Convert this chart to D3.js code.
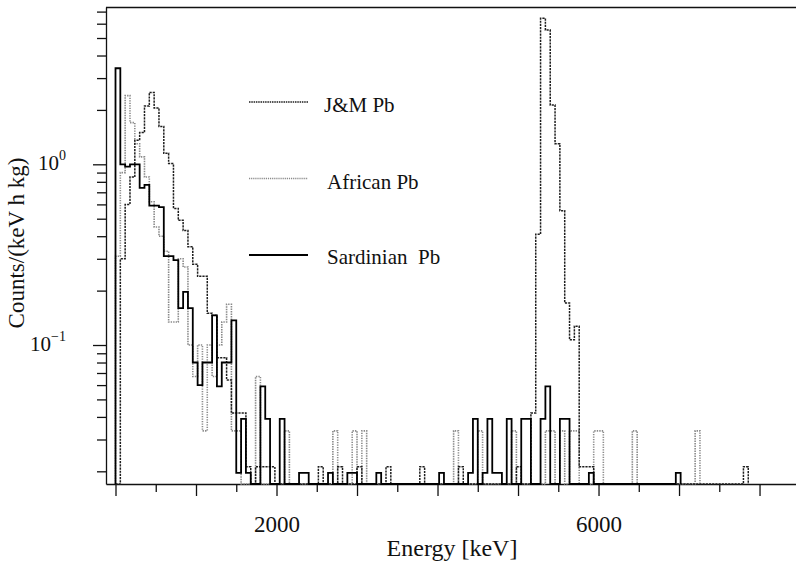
<!DOCTYPE html>
<html><head><meta charset="utf-8">
<script src="https://cdn.jsdelivr.net/npm/d3@7"></script>
<style>
body{margin:0;background:#fff;}
svg{display:block;}
text{font-family:"Liberation Serif","Times New Roman",serif;fill:#111;}
</style>
</head><body>
<svg id="c" width="796" height="562"></svg>
<script>
// ---- data: [bin start (keV), counts/(keV h kg)], 60 keV bins, empty bins omitted ----
const binWidth = 60;
const sardinian = [[0,3.4],[60,1.0],[120,0.97],[180,1.0],[240,1.0],[300,0.74],[360,0.77],[420,0.59],[480,0.59],[540,0.58],
  [600,0.31],[660,0.31],[720,0.295],[780,0.16],[840,0.197],[900,0.16],[960,0.08],[1020,0.06],[1080,0.08],[1140,0.08],
  [1200,0.146],[1260,0.059],[1320,0.08],[1380,0.08],[1440,0.137],[1500,0.0196],[1560,0.039],[1620,0.0196],[1800,0.059],[1860,0.039],
  [2040,0.039],[2280,0.0196],[2340,0.0196],[2640,0.0196],[2880,0.0196],[2940,0.0196],[3240,0.0196],[4020,0.0196],[4380,0.0196],[4440,0.039],
  [4560,0.0196],[4620,0.039],[4680,0.0196],[4740,0.0196],[4860,0.039],[5040,0.039],[5100,0.039],[5280,0.039],[5340,0.059],[5520,0.039],
  [5580,0.039],[5880,0.0196],[6960,0.0196]];
const jmPb = [[60,0.3],[120,0.6],[180,0.85],[240,1.36],[300,1.5],[360,2.1],[420,2.5],[480,2.05],[540,1.62],[600,1.15],
  [660,1.01],[720,0.57],[780,0.49],[840,0.43],[900,0.35],[960,0.28],[1020,0.24],[1080,0.24],[1140,0.15],[1200,0.146],
  [1260,0.085],[1320,0.085],[1380,0.064],[1440,0.042],[1500,0.042],[1560,0.042],[1620,0.0212],[1740,0.0212],[1800,0.0212],[1860,0.0212],
  [1920,0.0212],[2520,0.0212],[2760,0.0212],[3000,0.0212],[3360,0.0212],[3780,0.0212],[4260,0.0212],[4980,0.0212],[5160,0.042],[5220,0.41],
  [5280,6.43],[5340,5.53],[5400,2.13],[5460,1.30],[5520,0.553],[5580,0.171],[5640,0.107],[5700,0.127],[5760,0.0212],[5820,0.0212],
  [5880,0.0212],[7800,0.0212]];
const african = [[0,0.31],[60,0.9],[120,2.4],[180,1.7],[240,1.3],[300,1.1],[360,0.85],[420,0.62],[480,0.45],[540,0.4],
  [600,0.33],[660,0.134],[720,0.134],[780,0.3],[840,0.27],[900,0.1],[960,0.067],[1020,0.1],[1080,0.0335],[1140,0.1],
  [1200,0.067],[1260,0.1],[1320,0.134],[1380,0.168],[1440,0.0335],[1500,0.0335],[1740,0.067],[2100,0.0335],[2700,0.0335],[2940,0.0335],
  [3060,0.0335],[4200,0.0335],[4500,0.0335],[4920,0.0335],[5340,0.0335],[5400,0.0335],[5520,0.0335],[5640,0.0335],[5700,0.0335],[5940,0.0335],
  [6000,0.0335],[6420,0.0335],[7200,0.0335]];

const seriesNames = ["J&M Pb", "African Pb", "Sardinian  Pb"];
const xMajorTicks = [0,1000,2000,3000,4000,5000,6000,7000,8000];
const xMinorTicks = [500,1500,2500,3500,4500,5500,6500,7500];
const xTickLabels = [2000, 6000];
const yMajorTicks = [0.1, 1];
const yTickLabels = [["10","−1"],["10","0"]];
const yMinorTicks = [0.02,0.03,0.04,0.05,0.06,0.07,0.08,0.09,0.2,0.3,0.4,0.5,0.6,0.7,0.8,0.9,2,3,4,5,6,7];

// ---- layout ----
const L = 106, R = 796, T = 7, B = 484;
const svg = d3.select("#c");
const x = d3.scaleLinear().domain([-118, 8453]).range([L, R]);
const y = d3.scaleLog().domain([0.017014, 7.4226]).range([B, T]);

// axes
const gx = svg.append("g").attr("transform", `translate(0,${B})`);
gx.call(d3.axisBottom(x).tickValues(xMajorTicks).tickSize(12).tickSizeOuter(0)
  .tickFormat(d => xTickLabels.includes(d) ? String(d) : ""));
gx.selectAll("text").attr("font-size", 23).attr("dy", "1.45em")
  .style("font-family", '"Liberation Serif","Times New Roman",serif').attr("fill", "#111");
const gx2 = svg.append("g").attr("transform", `translate(0,${B})`);
gx2.call(d3.axisBottom(x).tickValues(xMinorTicks).tickSize(8).tickSizeOuter(0).tickFormat(""));
gx2.select(".domain").remove();

const gy = svg.append("g").attr("transform", `translate(${L},0)`);
gy.call(d3.axisLeft(y).tickValues(yMajorTicks).tickSize(13).tickSizeOuter(0).tickFormat(""));
const gy2 = svg.append("g").attr("transform", `translate(${L},0)`);
gy2.call(d3.axisLeft(y).tickValues(yMinorTicks).tickSize(9).tickSizeOuter(0).tickFormat(""));
gy2.select(".domain").remove();
svg.selectAll(".tick line, .domain").attr("stroke", "#111").attr("stroke-width", 1.3);

yMajorTicks.forEach((v, i) => {
  const t = svg.append("text").attr("x", 66).attr("y", y(v) + 6)
    .attr("text-anchor", "end").attr("font-size", 21);
  t.append("tspan").text(yTickLabels[i][0]);
  t.append("tspan").attr("dy", -10).attr("font-size", 14).text(yTickLabels[i][1]);
});

// top frame line
svg.append("line").attr("x1", L).attr("x2", R).attr("y1", T + 0.5).attr("y2", T + 0.5)
  .attr("stroke", "#111").attr("stroke-width", 1.3);

// axis titles
svg.append("text").attr("x", 452).attr("y", 556).attr("text-anchor", "middle")
  .attr("font-size", 24).text("Energy [keV]");
svg.append("text").attr("transform", "translate(24,243) rotate(-90)").attr("text-anchor", "middle")
  .attr("font-size", 23).text("Counts/(keV h kg)");

// histograms
function stepPoints(data) {
  const m = new Map(data);
  const last = d3.max(data, d => d[0]);
  const pts = [[x(0), B]];
  for (let e = 0; e <= last; e += binWidth) {
    const v = m.get(e) || 0;
    const yy = v > 0 ? y(v) : B;
    pts.push([x(e), yy], [x(e + binWidth), yy]);
  }
  pts.push([x(last + binWidth), B]);
  return pts;
}
const line = d3.line();
const styles = [
  {data: african, stroke: "#8a8a8a", width: 1.6, dash: "1.4,1.1"},
  {data: jmPb, stroke: "#1e1e1e", width: 1.5, dash: "2.2,1"},
  {data: sardinian, stroke: "#000", width: 1.8, dash: null}
];
styles.forEach(s => {
  svg.append("path").attr("d", line(stepPoints(s.data))).attr("fill", "none")
    .attr("stroke", s.stroke).attr("stroke-width", s.width)
    .attr("stroke-dasharray", s.dash).attr("stroke-linejoin", "miter");
});

// legend
const legendStyles = [
  {stroke: "#1e1e1e", width: 1.6, dash: "1.5,0.8", y: 102, tx: 324, ty: 112},
  {stroke: "#8a8a8a", width: 1.6, dash: "1.2,0.9", y: 178.5, tx: 327, ty: 189},
  {stroke: "#000", width: 2, dash: null, y: 255, tx: 327, ty: 264}
];
seriesNames.forEach((name, i) => {
  const s = legendStyles[i];
  svg.append("line").attr("x1", 249).attr("x2", 308).attr("y1", s.y).attr("y2", s.y)
    .attr("stroke", s.stroke).attr("stroke-width", s.width).attr("stroke-dasharray", s.dash);
  svg.append("text").attr("x", s.tx).attr("y", s.ty).attr("font-size", 21)
    .style("white-space", "pre").text(name);
});
</script>
</body></html>
